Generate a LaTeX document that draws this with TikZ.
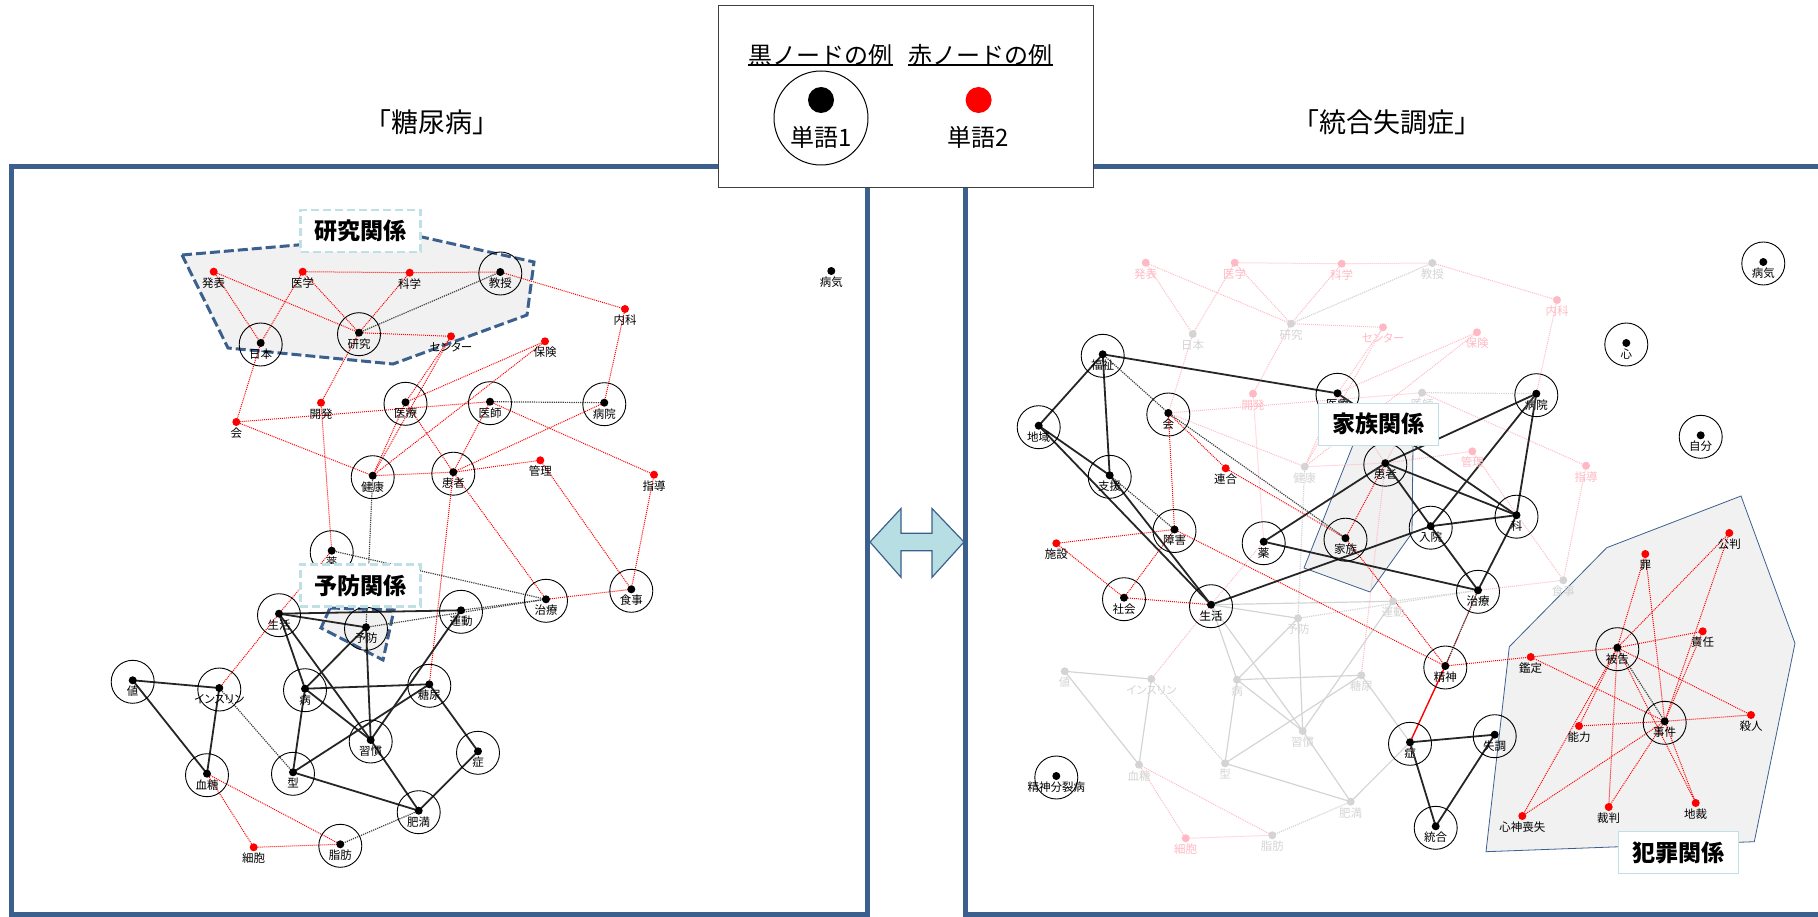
\documentclass[tikz,border=0pt]{standalone}
\usepackage{fontspec}
\setmainfont{Noto Sans CJK JP}
\newfontfamily\wordfont{Noto Sans CJK JP}[RawFeature=+palt]
\usetikzlibrary{calc}

\definecolor{panelblue}{RGB}{60,96,142}
\definecolor{arrowfill}{RGB}{183,222,226}
\definecolor{boxblue}{RGB}{190,225,231}
\definecolor{fadepink}{RGB}{255,185,196}
\definecolor{fadegray}{RGB}{212,212,212}
\definecolor{areafill}{RGB}{241,241,241}

\pgfdeclarelayer{back}
\pgfdeclarelayer{edges}
\pgfsetlayers{back,edges,main}

% diabetes map (name/x/y/word)
\def\blackNodes{nihon/260.7/343/日本,kenkyu/359/332.7/研究,kyoju/500.3/272/教授,
	iryo/405.5/402.3/医療,ishi/490/401.7/医師,byoin/604.3/402.7/病院,
	kenko/372.7/475.7/健康,kanja/453.3/472.2/患者,kusuri/331.7/550.7/薬,
	seikatsu/279/613.7/生活,yobo/366/627.3/予防,undo/461/610.3/運動,
	chiryo/546/599.3/治療,shokuji/631.3/589.3/食事,atai/132.7/680.3/値,
	insulin/219.3/688/インスリン,byo/305/688.7/病,tonyo/429.3/684.3/糖尿,
	shukan/370.7/740/習慣,sho/478/751.3/症,ketto/207/773.7/血糖,
	kata/293/772.3/型,himan/418.7/810.7/肥満,shibo/340.3/844.3/脂肪}
\def\redNodes{happyo/213.7/271.7/発表,igaku/302.7/271.7/医学,kagaku/409.7/272.7/科学,
	center/451/336.3/センター,hoken/545/341.3/保険,naika/625/309/内科,
	kaihatsu/321/402.7/開発,kai/236.3/422/会,kanri/540.3/460.3/管理,
	shido/654/474.7/指導,saibo/253.7/847.3/細胞}
\def\redEdges{happyo/nihon,happyo/kenkyu,igaku/nihon,igaku/kenkyu,igaku/kagaku,
	kagaku/kyoju,kagaku/kenkyu,kenkyu/center,kenkyu/kaihatsu,nihon/kai,kai/ishi,
	kai/kenko,kaihatsu/kusuri,kyoju/naika,naika/byoin,center/iryo,center/kenko,
	hoken/iryo,hoken/kenko,iryo/kenko,iryo/kanja,ishi/kanja,ishi/shido,byoin/kanja,
	kenko/kanja,kanja/kanri,kanja/chiryo,kanja/tonyo,kanri/shokuji,shido/shokuji,
	chiryo/shokuji,kusuri/seikatsu,seikatsu/insulin,ketto/shibo,ketto/saibo,saibo/shibo}
\def\dotEdges{kenkyu/kyoju,ishi/byoin,kenko/yobo,kusuri/chiryo,undo/chiryo,
	yobo/chiryo,insulin/kata,himan/shibo}
\def\solidEdges{seikatsu/undo,seikatsu/yobo,seikatsu/byo,seikatsu/shukan,yobo/byo,
	yobo/shukan,undo/shukan,atai/insulin,atai/ketto,insulin/ketto,byo/tonyo,
	byo/shukan,byo/kata,kata/tonyo,kata/himan,shukan/himan,tonyo/sho,sho/himan}

% schizophrenia map
\def\blackNodesR{fukushi/1102.7/354.3/福祉,chiiki/1038.7/425.7/地域,shien/1109.7/475.3/支援,
	shogai/1174.5/529.5/障害,shakai/1124/597.7/社会,kazoku/1345.5/538.2/家族,
	seishinbun/1056.3/776/精神分裂病,nyuin/1430.7/526.2/入院,ka/1516.5/515.2/科,
	kokoro/1626.3/343/心,jibun/1700.7/435.3/自分,seishin/1445.3/666/精神,
	shicho/1494.7/734.7/失調,togo/1435.7/826.3/統合,hikoku/1617.3/647.7/被告,
	jiken/1664.7/721.3/事件}
\def\redNodesR{rengo/1225.7/468.3/連合,shisetsu/1056.3/543.3/施設,kantei/1530.7/657/鑑定,
	tsumi/1645.3/554/罪,kohan/1729.3/533/公判,sekinin/1702.7/631.3/責任,
	satsujin/1751/715/殺人,noryoku/1579/726/能力,shinshin/1522.3/816/心神喪失,
	saiban/1608.7/807/裁判,chisai/1695.7/803/地裁}
\def\sharedR{kai/会,iryo/医療,kanja/患者,byoin/病院,seikatsu/生活,chiryo/治療,
	kusuri/薬,sho/症,byoki/病気}
\def\redEdgesR{kai/shogai,kai/rengo,rengo/kazoku,shogai/shisetsu,shogai/shakai,
	shisetsu/shakai,shakai/seikatsu,shogai/seishin,kanja/kazoku,kazoku/seishin,
	chiryo/seishin,seishin/kantei,kantei/hikoku,kantei/jiken,
	hikoku/tsumi,hikoku/kohan,hikoku/sekinin,hikoku/satsujin,hikoku/noryoku,
	hikoku/shinshin,hikoku/saiban,hikoku/chisai,
	jiken/tsumi,jiken/kohan,jiken/sekinin,jiken/satsujin,jiken/noryoku,
	jiken/shinshin,jiken/saiban,jiken/chisai}
\def\dotEdgesR{fukushi/kai,kai/kazoku,shien/shogai,hikoku/jiken,chiryo/seishin}
\def\solidEdgesR{fukushi/iryo,fukushi/chiiki,fukushi/shien,chiiki/shien,chiiki/seikatsu,
	shien/seikatsu,seikatsu/nyuin,kusuri/kanja,kusuri/chiryo,kanja/byoin,kanja/ka,
	kanja/nyuin,nyuin/byoin,nyuin/ka,nyuin/chiryo,ka/byoin,ka/chiryo,iryo/ka,
	sho/shicho,sho/togo,shicho/togo}

\begin{document}
\begin{tikzpicture}
	[x=1pt,y=-1pt,
	 bdot/.style={circle,fill=black,inner sep=0pt,minimum size=8pt},
	 rdot/.style={circle,fill=red,inner sep=0pt,minimum size=8pt},
	 ring/.style={circle,draw,line width=0.9pt,inner sep=0pt,minimum size=43pt},
	 word/.style={inner sep=0pt,font=\wordfont\fontsize{11.5}{11.5}\selectfont},
	 redline/.style={red,densely dotted,line width=1pt},
	 dotline/.style={black!75,densely dotted,line width=1.2pt},
	 solidline/.style={black!85,line width=1.8pt},
	 area/.style={fill=areafill},
	 tagbox/.style={fill=white,draw=boxblue,minimum width=120pt,minimum height=42pt,
	   inner sep=0pt,font=\fontsize{23}{23}\selectfont\bfseries},
	 legtext/.style={inner sep=0pt,font=\fontsize{24}{24}\selectfont},
	 panel/.style={draw=panelblue,line width=5pt}
	]
	\useasboundingbox (0,0) rectangle (1818,917);

	% panels
	\draw[panel] (11,167) rectangle (867,914);
	\draw[panel] (965,167) rectangle (1821,914);

	% diabetes map, faded copy on the right
	\foreach \n/\x/\y/\lab in \blackNodes {
		\coordinate (L\n) at (\x,\y);
		\coordinate (R\n) at (\x+932,\y-9);
		\node[bdot,fill=fadegray] (dR\n) at (R\n) {};
		\node[word,text=fadegray] (tR\n) at ([yshift=-11pt]R\n) {\lab};
		\node[ring] (cL\n) at ([yshift=-1.5pt]L\n) {};
		\node[bdot] (dL\n) at (L\n) {};
		\node[word] (tL\n) at ([yshift=-11pt]L\n) {\lab};
	}
	\foreach \n/\x/\y/\lab in \redNodes {
		\coordinate (L\n) at (\x,\y);
		\coordinate (R\n) at (\x+932,\y-9);
		\node[rdot,fill=fadepink] (dR\n) at (R\n) {};
		\node[word,text=fadepink] (tR\n) at ([yshift=-11pt]R\n) {\lab};
		\node[rdot] (dL\n) at (L\n) {};
		\node[word] (tL\n) at ([yshift=-11pt]L\n) {\lab};
	}
	\coordinate (Lbyoki) at (831.3,271);
	\coordinate (Rbyoki) at (1763.3,262);
	\node[bdot] (dLbyoki) at (Lbyoki) {};
	\node[word] (tLbyoki) at ([yshift=-11pt]Lbyoki) {病気};

	% schizophrenia map
	\foreach \n/\x/\y/\lab in \blackNodesR {
		\coordinate (R\n) at (\x,\y);
		\node[ring] (cA\n) at ([yshift=-1.5pt]R\n) {};
		\node[bdot] (dA\n) at (R\n) {};
		\node[word] (tA\n) at ([yshift=-11pt]R\n) {\lab};
	}
	\foreach \n/\x/\y/\lab in \redNodesR {
		\coordinate (R\n) at (\x,\y);
		\node[rdot] (dA\n) at (R\n) {};
		\node[word] (tA\n) at ([yshift=-11pt]R\n) {\lab};
	}
	\foreach \n/\lab in \sharedR {
		\node[ring] (cA\n) at ([yshift=-1.5pt]R\n) {};
		\node[bdot] (dA\n) at (R\n) {};
		\node[word] (tA\n) at ([yshift=-11pt]R\n) {\lab};
	}

	% edges
	\begin{pgfonlayer}{edges}
		\foreach \a/\b in \redEdges {
			\draw[redline] (L\a) -- (L\b);
			\draw[redline,fadepink] (R\a) -- (R\b);
		}
		\foreach \a/\b in \dotEdges {
			\draw[dotline] (L\a) -- (L\b);
			\draw[dotline,fadegray] (R\a) -- (R\b);
		}
		\foreach \a/\b in \solidEdges {
			\draw[solidline] (L\a) -- (L\b);
			\draw[solidline,fadegray,line width=1.2pt] (R\a) -- (R\b);
		}
		\foreach \a/\b in \redEdgesR
			\draw[redline] (R\a) -- (R\b);
		\foreach \a/\b in \dotEdgesR
			\draw[dotline] (R\a) -- (R\b);
		\foreach \a/\b in \solidEdgesR
			\draw[solidline] (R\a) -- (R\b);
		\draw[red,line width=1.4pt] (Rseishin) -- (Rsho);
	\end{pgfonlayer}

	% areas
	\begin{pgfonlayer}{back}
		\draw[area,draw=panelblue,line width=3pt,dash pattern=on 10pt off 4pt]
			(182,255) -- (413,235) -- (534,262) -- (527,315) -- (393,364) -- (228,348) -- cycle;
		\draw[area,draw=panelblue,line width=3pt,dash pattern=on 10pt off 4pt]
			(330,608) -- (394,610) -- (383,660) -- (321,628) -- cycle;
		\draw[area,draw=panelblue,line width=0.8pt]
			(1353,445) -- (1413,445) -- (1412,533) -- (1370,592) -- (1304,568) -- cycle;
		\draw[area,draw=panelblue,line width=0.8pt]
			(1486,851.7) -- (1509.3,646.7) -- (1606.7,547.7) -- (1741,496) -- (1795,643.3) -- (1754.3,841.7) -- cycle;
	\end{pgfonlayer}

	% tags
	\node[tagbox,line width=2.5pt,dash pattern=on 8pt off 4pt] (tagResearch) at (360.5,231) {研究関係};
	\node[tagbox,line width=2.5pt,dash pattern=on 8pt off 4pt] (tagPrevent) at (360.3,585.3) {予防関係};
	\node[tagbox,line width=1pt] (tagFamily) at (1378.3,424.2) {家族関係};
	\node[tagbox,line width=1pt] (tagCrime) at (1678.3,852.5) {犯罪関係};

	% titles
	\node[font=\fontsize{27}{27}\selectfont] (titleL) at (432,122) {「糖尿病」};
	\node[font=\fontsize{27}{27}\selectfont] (titleR) at (1387,122) {「統合失調症」};

	% legend
	\node[draw=black!75,line width=1pt,fill=white,minimum width=375pt,minimum height=182pt] (legend) at (905.5,97) {};
	\node[legtext] (legBlack) at (820.4,55) {黒ノードの例};
	\node[legtext] (legRed) at (980.4,55) {赤ノードの例};
	\draw[line width=1.6pt] ([yshift=1pt]legBlack.south west) -- ([yshift=1pt]legBlack.south east);
	\draw[line width=1.6pt] ([yshift=1pt]legRed.south west) -- ([yshift=1pt]legRed.south east);
	\node[circle,draw,line width=1pt,minimum size=94pt,inner sep=0pt] (legRing) at (821,118) {};
	\node[bdot,minimum size=26pt] (legDotB) at (821,100) {};
	\node[rdot,minimum size=26pt] (legDotR) at (978.6,100) {};
	\node[legtext] (legWordB) at (821,137) {単語1};
	\node[legtext] (legWordR) at (978.6,137) {単語2};

	% double arrow
	\draw[draw=panelblue,fill=arrowfill,line width=1.2pt]
		(870,542) -- (901,508.5) -- (901,533.3) -- (932,533.3) -- (932,508.5) -- (964,542)
		-- (932,577.3) -- (932,550.7) -- (901,550.7) -- (901,577.3) -- cycle;
\end{tikzpicture}
\end{document}
